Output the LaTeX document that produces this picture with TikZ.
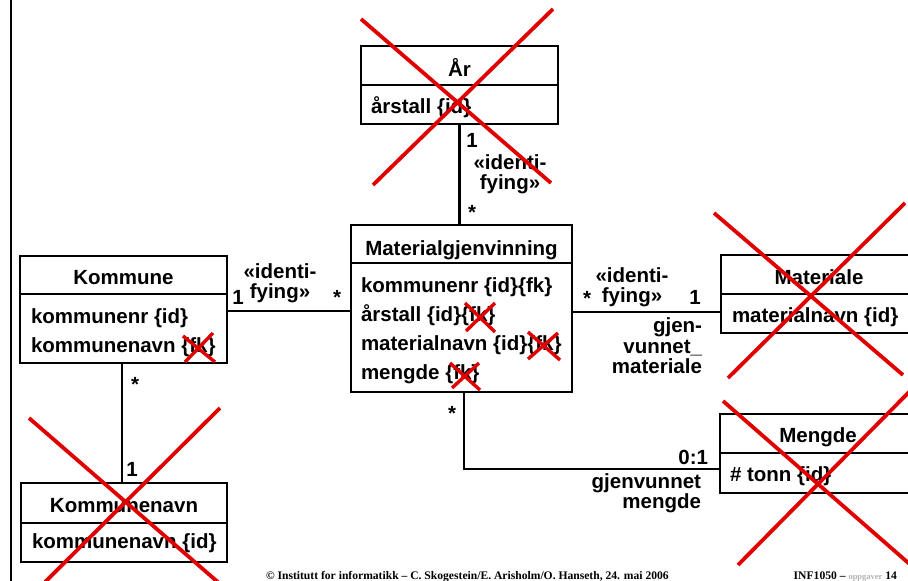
\documentclass[tikz,border=0pt]{standalone}
\usepackage{fontspec}
\setmainfont{Liberation Sans}
\newfontfamily\footfont{Liberation Serif}
\definecolor{crossred}{RGB}{225,0,0}
\begin{document}
\begin{tikzpicture}[x=1pt,y=-1pt,
  every node/.style={inner sep=0pt, outer sep=0pt},
  umltxt/.style={font=\fontsize{20.5}{20.5}\selectfont\bfseries},
  classbox/.style={draw, rectangle, line width=2.8pt},
  divider/.style={line width=1.3pt},
  assoc/.style={line width=2.2pt},
  title/.style={umltxt, anchor=base},
  attr/.style={umltxt, anchor=base west},
  mult/.style={umltxt},
  rolelbl/.style={umltxt, align=right, anchor=east},
  stereo/.style={umltxt, align=center},
  strike/.style={draw=crossred, line width=3.8pt},
  smallstrike/.style={draw=crossred, line width=3.4pt},
  footer/.style={font=\footfont\bfseries\fontsize{11.6}{11.6}\selectfont, anchor=base west}
]
\useasboundingbox (0,0) rectangle (908,581);

% page margin rule
\draw[line width=1.3pt] (11,-2) -- (11,583);

% ---- classes ----
\node[classbox, minimum width=197pt, minimum height=78pt] (ar) at (459.5,85) {};
\draw[divider] (361,85) -- (558,85);
\node[title] (arT) at (459.5,76) {År};
\node[attr] (arA) at (371,113) {årstall \{id\}};

\node[classbox, minimum width=221pt, minimum height=167pt] (mg) at (461.5,308.5) {};
\draw[divider] (351,263) -- (572,263);
\node[title] (mgT) at (461.5,255) {Materialgjenvinning};
\node[attr] (mgA1) at (361,292) {kommunenr \{id\}\{fk\}};
\node[attr] (mgA2) at (361,321) {årstall \{id\}\{fk\}};
\node[attr] (mgA3) at (361,350) {materialnavn \{id\}\{fk\}};
\node[attr] (mgA4) at (361,379) {mengde \{fk\}};

\node[classbox, minimum width=207pt, minimum height=107pt] (kom) at (123.5,309.5) {};
\draw[divider] (20,294) -- (227,294);
\node[title] (komT) at (123.5,284) {Kommune};
\node[attr] (komA1) at (31,323) {kommunenr \{id\}};
\node[attr] (komA2) at (31,352) {kommunenavn \{fk\}};

\node[classbox, minimum width=206pt, minimum height=79pt] (kn) at (124,522.5) {};
\draw[divider] (21,523) -- (227,523);
\node[title] (knT) at (124,512) {Kommunenavn};
\node[attr] (knA) at (32,548) {kommunenavn \{id\}};

\node[classbox, minimum width=196pt, minimum height=78pt] (mat) at (819,294) {};
\draw[divider] (721,294) -- (917,294);
\node[title] (matT) at (819,284) {Materiale};
\node[attr] (matA) at (732,322) {materialnavn \{id\}};

\node[classbox, minimum width=196pt, minimum height=79pt] (men) at (818,453.5) {};
\draw[divider] (720,453) -- (916,453);
\node[title] (menT) at (818,442) {Mengde};
\node[attr] (menA) at (730,481) {\# tonn \{id\}};

% ---- associations ----
\coordinate (kmrow) at (0,311);
\coordinate (mmrow) at (0,312);
\coordinate (kcol) at (122,0);
\coordinate (mencol) at (464,0);
\coordinate (menrow) at (0,469);

\draw[assoc] (ar.south) -- (ar.south |- mg.north);
\draw[assoc] (kom.east |- kmrow) -- (mg.west |- kmrow);
\draw[assoc] (mg.east |- mmrow) -- (mat.west |- mmrow);
\draw[assoc] (kom.south -| kcol) -- (kn.north -| kcol);
\draw[assoc] (mg.south -| mencol) |- (men.west |- menrow);

% ---- multiplicities, stereotypes and role names ----
\node[mult] (m1) at (472,140) {1};
\node[stereo] (s1) at (510,174) {«identi-\\fying»};
\node[mult] (m2) at (472,212) {*};

\node[mult] (m3) at (238,297) {1};
\node[stereo] (s2) at (280,283) {«identi-\\fying»};
\node[mult] (m4) at (337,297) {*};

\node[mult] (m5) at (587,298) {*};
\node[stereo] (s3) at (632,287) {«identi-\\fying»};
\node[mult] (m6) at (695,297) {1};
\node[rolelbl] (r1) at (702,346) {gjen-\\vunnet\_\\materiale};

\node[mult] (m7) at (135,384) {*};
\node[mult] (m8) at (132,469) {1};

\node[mult] (m9) at (452,413) {*};
\node[rolelbl] (m10) at (708,457) {0:1};
\node[rolelbl] (r2) at (701,493) {gjenvunnet\\mengde};

% ---- strike-outs ----
\draw[strike] (361,19) -- (551,183);
\draw[strike] (553,9) -- (373,185);
\draw[strike] (714,213) -- (903,375);
\draw[strike] (905,203) -- (728,378);
\draw[strike] (723,401) -- (913,567);
\draw[strike] (738,565) -- (913,388);
\draw[strike] (29,418) -- (227,590);
\draw[strike] (220,408) -- (37,590);

\draw[smallstrike] (183,336) -- (215,362);
\draw[smallstrike] (213,333) -- (185,362);
\draw[smallstrike] (465,303) -- (495,332);
\draw[smallstrike] (495,303) -- (466,331);
\draw[smallstrike] (528,332) -- (560,360);
\draw[smallstrike] (558,333) -- (528,359);
\draw[smallstrike] (450,363) -- (480,390);
\draw[smallstrike] (479,363) -- (452,388);

% ---- footer ----
\node[footer] (foot) at (266,579) {© Institutt for informatikk – C. Skogestein/E. Arisholm/O. Hanseth, 24. mai 2006};
\node[footer, anchor=base east] (pg) at (897,579) {INF1050 – {\color{gray!60}\fontsize{8.5}{8.5}\selectfont oppgaver} 14};
\end{tikzpicture}
\end{document}
